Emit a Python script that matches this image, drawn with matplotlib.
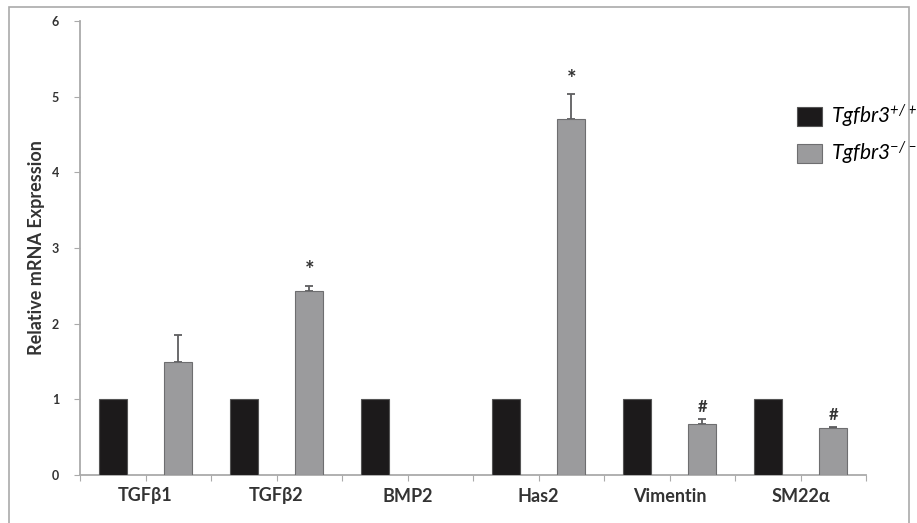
import numpy as np
import matplotlib.pyplot as plt
from matplotlib.patches import Rectangle

genes = ["TGFβ1", "TGFβ2", "BMP2", "Has2", "Vimentin", "SM22α"]
wt_vals = [1, 1, 1, 1, 1, 1]
ko_vals = [1.50, 2.43, 0, 4.70, 0.68, 0.62]
ko_err = [0.35, 0.07, 0, 0.33, 0.06, 0.01]
marks = ["", "*", "", "*", "#", "#"]

plt.rcParams['font.family'] = ['Lato', 'DejaVu Sans']
plt.rcParams['mathtext.default'] = 'regular'

fig = plt.figure(figsize=(9.17, 5.23), dpi=100)
fig.patch.set_facecolor("white")
# grey frame round the figure (runs off the bottom edge)
fig.add_artist(Rectangle((9 / 917, -20 / 523), 900 / 917, 536 / 523,
                         transform=fig.transFigure, fill=False,
                         edgecolor="#aaaaaa", linewidth=1.2))

ax = fig.add_axes([80 / 917, 48 / 523, 786 / 917, 454 / 523])

n = len(genes)
x_wt = np.arange(n) * 2
x_ko = x_wt + 1
w = 0.43

ax.bar(x_wt, wt_vals, width=w, color="#1c1a1b", edgecolor="#555555",
       linewidth=0.8, label="Tgfbr3$^{+/+}$", zorder=3)
ko_show = [v if v > 0 else np.nan for v in ko_vals]
ax.bar(x_ko, ko_show, width=w, color="#9b9b9d", edgecolor="#6e6e70",
       linewidth=0.8, label="Tgfbr3$^{-/-}$", zorder=3)

for xi, v, e, m in zip(x_ko, ko_vals, ko_err, marks):
    if v > 0 and e > 0:
        ax.errorbar(xi, v, yerr=[[0], [e]], fmt="none", ecolor="#5e5e60",
                    elinewidth=1.3, capsize=3, capthick=1.3, zorder=2)
    if m:
        ax.annotate(m, (xi, v + e), xytext=(0, 15 if m == "*" else 12),
                    textcoords="offset pixels", ha="center", va="center",
                    fontsize=16 if m == "*" else 12, fontweight="bold",
                    color="#333333")

ax.set_xlim(-0.5, 2 * n - 0.5)
ax.set_ylim(0, 6)
ax.set_xticks(np.arange(2 * n + 1) - 0.5)
ax.set_xticklabels([])
ax.tick_params(axis="x", direction="out", length=4, color="#aaaaaa")
for i, g in enumerate(genes):
    ax.annotate(g, (2 * i + 0.5, 0), xytext=(0, -21),
                textcoords="offset pixels", ha="center", va="center",
                fontsize=13, fontweight="bold", color="#333333")

ax.set_yticks(range(7))
ax.tick_params(axis="y", direction="out", length=4, color="#aaaaaa",
               labelsize=9, labelcolor="#333333", pad=11)
for lab in ax.get_yticklabels():
    lab.set_fontweight("bold")

ax.set_ylabel("Relative mRNA Expression", fontsize=13, fontweight="bold",
              color="#333333", labelpad=5)

for s in ["top", "right"]:
    ax.spines[s].set_visible(False)
for s in ["left", "bottom"]:
    ax.spines[s].set_color("#aaaaaa")
    ax.spines[s].set_linewidth(1.3)

ax.legend(loc="upper left", bbox_to_anchor=(797 / 917, 1 - 103 / 523),
          bbox_transform=fig.transFigure, frameon=False,
          prop={"size": 15, "style": "italic"}, borderpad=0,
          borderaxespad=0, handlelength=1.2, handleheight=1.05,
          labelspacing=0.45, handletextpad=0.45)

fig.savefig("out.png", dpi=100)
